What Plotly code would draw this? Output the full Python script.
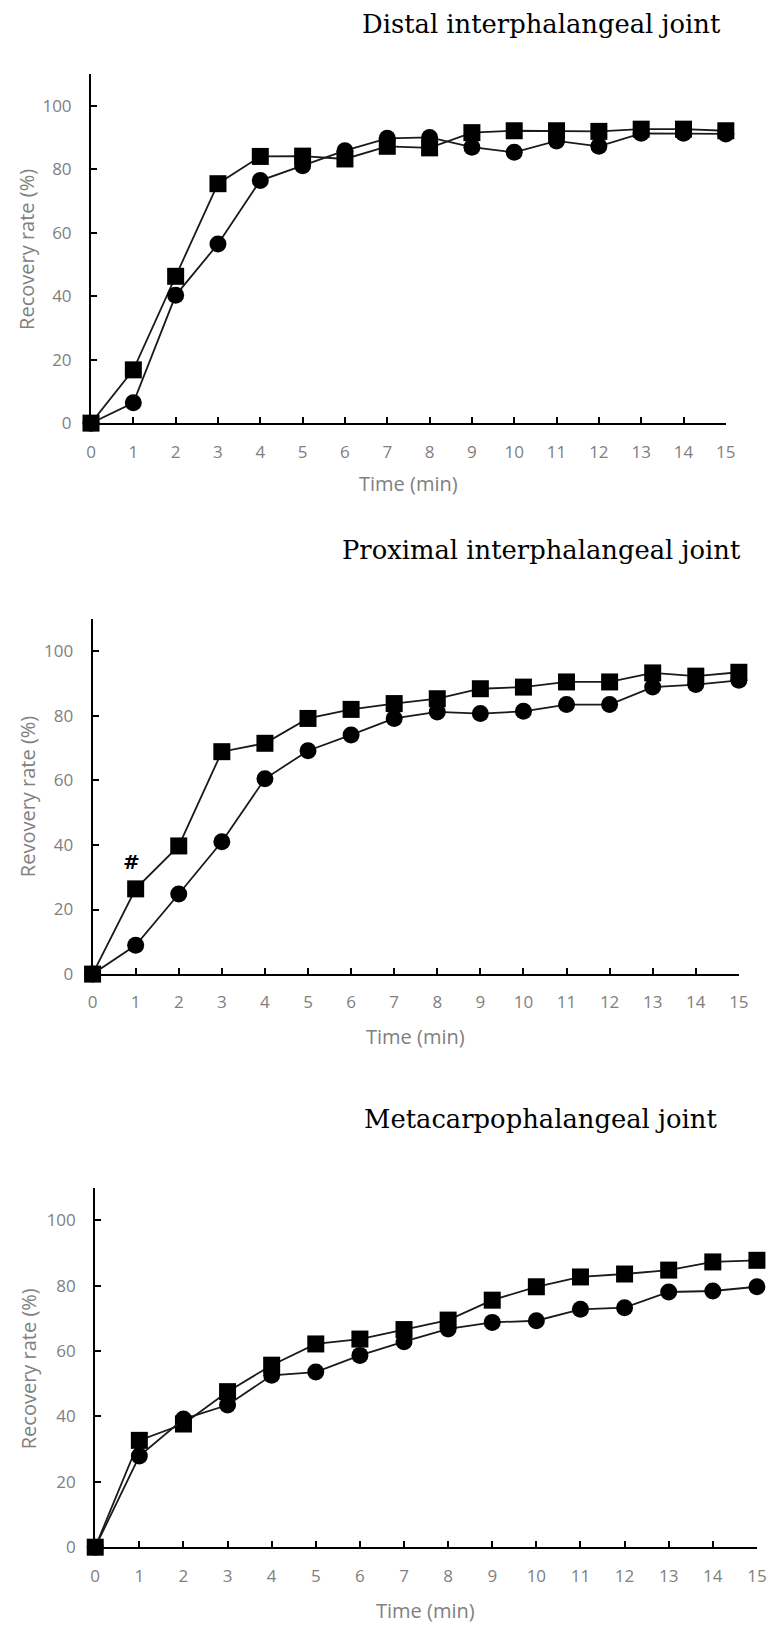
import plotly.graph_objects as go

W, H = 778, 1633

# ---- data ----
time_min = list(range(16))
x_ticks = list(range(16))
y_ticks = [0, 20, 40, 60, 80, 100]

titles = ["Distal interphalangeal joint",
          "Proximal interphalangeal joint",
          "Metacarpophalangeal joint"]
y_titles = ["Recovery rate (%)", "Revovery rate (%)", "Recovery rate (%)"]
x_title = "Time (min)"

dip_square = [0, 16.8, 46.3, 75.5, 84.1, 84.2, 83.3, 87.3, 86.8, 91.6, 92.2, 92.2, 92.0, 92.7, 92.7, 92.2]
dip_circle = [0, 6.4, 40.3, 56.5, 76.5, 81.2, 85.9, 89.8, 90.1, 87.0, 85.4, 89.0, 87.3, 91.4, 91.4, 91.2]

pip_square = [0, 26.4, 39.7, 68.9, 71.5, 79.2, 82.0, 83.8, 85.3, 88.4, 88.9, 90.5, 90.5, 93.3, 92.3, 93.5]
pip_circle = [0, 8.9, 24.8, 41.0, 60.5, 69.2, 74.1, 79.2, 81.2, 80.7, 81.4, 83.5, 83.5, 88.9, 89.7, 91.0]

mcp_square = [0, 32.7, 37.7, 47.6, 55.7, 62.2, 63.7, 66.6, 69.5, 75.6, 79.7, 82.7, 83.6, 84.8, 87.3, 87.8]
mcp_circle = [0, 27.9, 39.2, 43.5, 52.6, 53.6, 58.7, 62.9, 66.8, 68.8, 69.3, 72.8, 73.3, 78.1, 78.4, 79.7]

squares = [dip_square, pip_square, mcp_square]
circles = [dip_circle, pip_circle, mcp_circle]

# significance mark (panel 2)
mark_text = "#"
mark_x = 0.9
mark_y = 34.8

# ---- layout geometry (pixels) ----
panels = [
    dict(x0=87.7, x1=735.0, yb=426.0, yt=74.8, title_xy=(547.5, 24), ytitle_xy=(22, 251), xtitle_xy=(411, 487)),
    dict(x0=89.3, x1=748.3, yb=980.7, yt=623.2, title_xy=(547, 554), ytitle_xy=(23, 802), xtitle_xy=(419, 1044)),
    dict(x0=92.0, x1=766.7, yb=1557.7, yt=1195.8, title_xy=(546, 1127), ytitle_xy=(24, 1378), xtitle_xy=(429, 1621)),
]

def px(x):
    return x / W

def py(y):
    return 1 - y / H

GRAY = "#808080"
tick_font = dict(family="Open Sans", size=17, color=GRAY)
title_font = dict(family="Open Sans", size=20, color=GRAY)

fig = go.Figure()
annotations = []
layout_axes = {}

for i, p in enumerate(panels):
    n = "" if i == 0 else str(i + 1)
    xa, ya = "x" + n, "y" + n
    fig.add_trace(go.Scatter(
        x=time_min, y=squares[i], xaxis=xa, yaxis=ya, mode="lines+markers",
        line=dict(color="#1a1a1a", width=1.8),
        marker=dict(symbol="square", size=17, color="black"),
        cliponaxis=False, showlegend=False, name="square"))
    fig.add_trace(go.Scatter(
        x=time_min, y=circles[i], xaxis=xa, yaxis=ya, mode="lines+markers",
        line=dict(color="#1a1a1a", width=1.8),
        marker=dict(symbol="circle", size=17, color="black"),
        cliponaxis=False, showlegend=False, name="circle"))

    layout_axes["xaxis" + n] = dict(
        domain=[px(p["x0"]), px(p["x1"])], range=[0, 15], anchor=ya,
        tickmode="array", tickvals=x_ticks, ticktext=[str(t) for t in x_ticks],
        ticks="inside", ticklen=6, tickwidth=1.5, tickcolor="black",
        showline=True, linecolor="black", linewidth=2,
        showgrid=False, zeroline=False, tickfont=tick_font,
        ticklabelstandoff=12, fixedrange=True)
    layout_axes["yaxis" + n] = dict(
        domain=[py(p["yb"]), py(p["yt"])], range=[0, 110], anchor=xa,
        tickmode="array", tickvals=y_ticks, ticktext=[str(t) for t in y_ticks],
        ticks="inside", ticklen=6, tickwidth=1.5, tickcolor="black",
        showline=True, linecolor="black", linewidth=2,
        showgrid=False, zeroline=False, tickfont=tick_font,
        ticklabelstandoff=14, fixedrange=True)

    tx, ty = p["title_xy"]
    annotations.append(dict(text=titles[i], x=px(tx), y=py(ty), xref="paper", yref="paper",
                            xanchor="center", yanchor="middle", showarrow=False,
                            font=dict(family="DejaVu Serif", size=25.8, color="black")))
    yx, yy = p["ytitle_xy"]
    annotations.append(dict(text=y_titles[i], x=px(yx), y=py(yy), xref="paper", yref="paper",
                            xanchor="center", yanchor="middle", showarrow=False, textangle=-90,
                            font=title_font))
    xx, xy = p["xtitle_xy"]
    annotations.append(dict(text=x_title, x=px(xx), y=py(xy), xref="paper", yref="paper",
                            xanchor="center", yanchor="middle", showarrow=False,
                            font=title_font))

annotations.append(dict(text=mark_text, x=mark_x, y=mark_y, xref="x2", yref="y2",
                        xanchor="center", yanchor="middle", showarrow=False,
                        font=dict(family="DejaVu Sans", size=20, color="black", weight="bold")))

fig.update_layout(
    width=W, height=H, margin=dict(l=0, r=0, t=0, b=0),
    paper_bgcolor="white", plot_bgcolor="white",
    annotations=annotations, **layout_axes)

fig.write_html("out.html", config={"displayModeBar": False})
